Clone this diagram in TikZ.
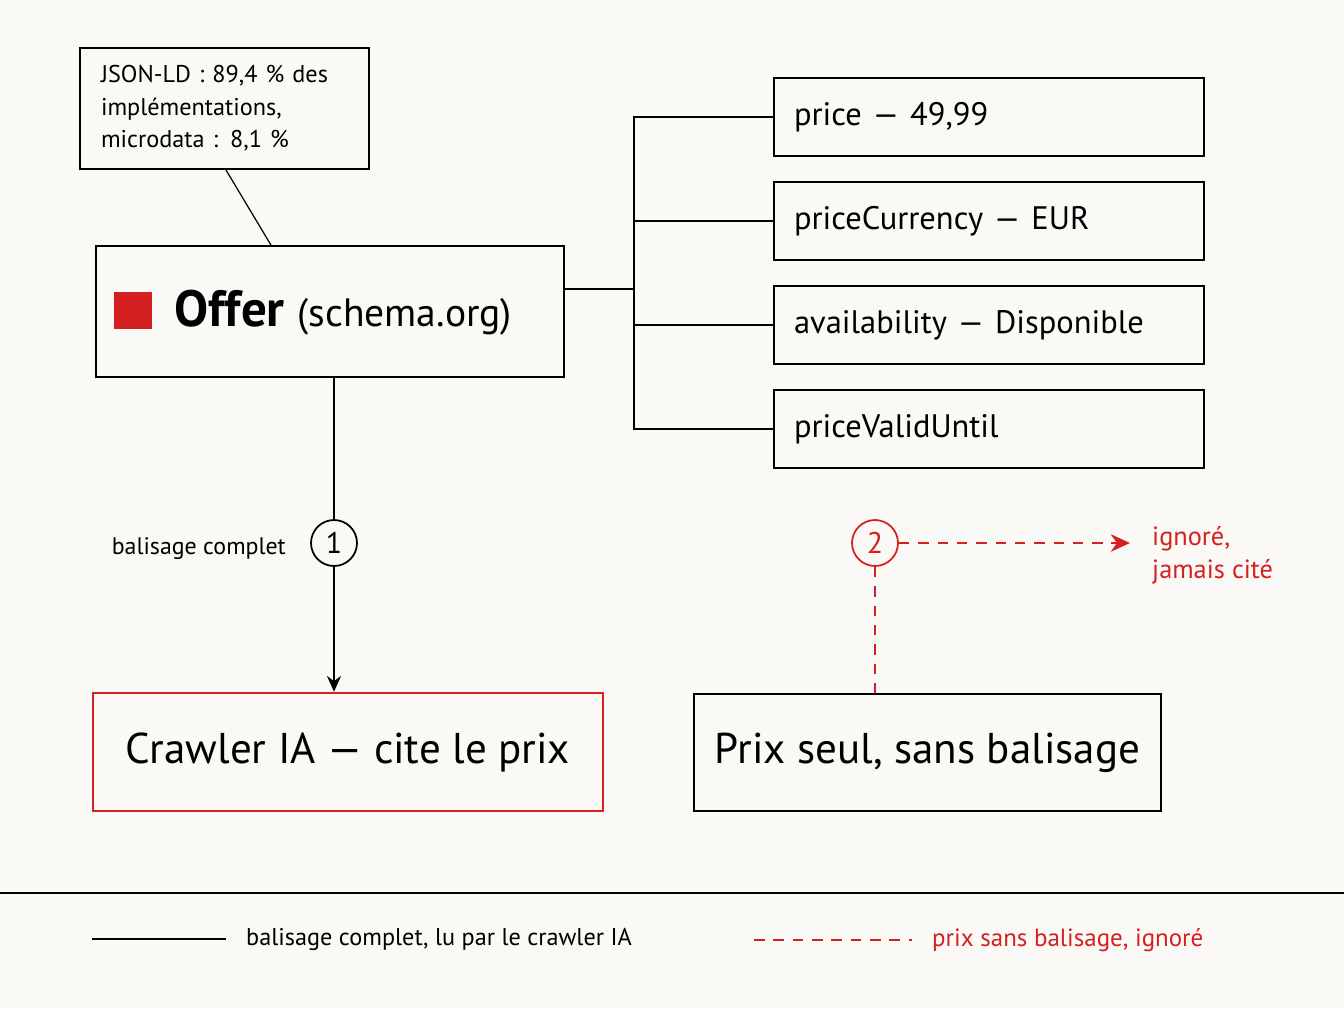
\documentclass[tikz,border=0pt]{standalone}
\usepackage{fontspec}
\setmainfont{PT Sans}
\usetikzlibrary{arrows.meta}
\definecolor{redmark}{HTML}{D42020}
\definecolor{paper}{HTML}{FAF9F5}
\tikzset{
  box/.style={draw, line width=1pt, inner sep=0pt},
  prop/.style={box, minimum width=8.6cm, minimum height=1.56cm, text width=7.8cm, align=left, font=\fontsize{18.5}{20}\selectfont},
  stepmark/.style={circle, draw, line width=1pt, minimum size=0.92cm, inner sep=0pt, font=\fontsize{17}{19}\selectfont},
  link/.style={line width=1pt},
  miss/.style={line width=1pt, redmark, dash pattern=on 6pt off 5pt},
}
\begin{document}
\begin{tikzpicture}[x=0.02cm, y=-0.02cm]
        \fill[paper] (0,0) rectangle (1344,1008);
        \useasboundingbox (0,0) rectangle (1344,1008);
        %%%%%%%%%% Nodi %%%%%%%%%%
        \node[box, minimum width=5.78cm, minimum height=2.42cm, text width=4.94cm, align=left, font=\fontsize{13.8}{18.5}\selectfont] (note) at (224.5,108.5) {JSON-LD : 89,4 \% des\\implémentations,\\microdata : 8,1 \%};
        \node[box, minimum width=9.36cm, minimum height=2.62cm] (offer) at (330,311.5) {};
        \fill[redmark] (114,292) rectangle (152,329);
        \node[anchor=west, inner sep=0pt] (title) at (174,313) {\fontsize{29}{32}\selectfont\bfseries Offer \fontsize{22.5}{26}\selectfont\mdseries(schema.org)};
        \node[prop] (p1) at (989,117) {price — 49,99};
        \node[prop] (p2) at (989,221) {priceCurrency — EUR};
        \node[prop] (p3) at (989,325) {availability — Disponible};
        \node[prop] (p4) at (989,429) {priceValidUntil};
        \coordinate (hub) at (634,289);
        \node[stepmark] (s1) at (334,543) {1};
        \node[stepmark, redmark] (s2) at (875,543) {2};
        \node[anchor=east, font=\fontsize{13.6}{16}\selectfont] (lbl) at (292,549) {balisage complet};
        \node[anchor=west, align=left, text=redmark, font=\fontsize{15}{19}\selectfont] (ign) at (1146,555) {ignoré,\\jamais cité};
        \node[box, draw=redmark, line width=1.4pt, minimum width=10.2cm, minimum height=2.36cm, font=\fontsize{24.5}{28}\selectfont] (crawl) at (348,752) {Crawler IA — cite le prix};
        \node[box, minimum width=9.34cm, minimum height=2.34cm, font=\fontsize{24.5}{28}\selectfont] (prix) at (927.5,752.5) {Prix seul, sans balisage};

        %%%%%%%%% Archi %%%%%%%%%%
        \draw[link, line width=0.7pt] (226,170) -- (offer.north west -| 271,0);
        \draw[link] (offer.east |- hub) -- (hub);
        \foreach \p in {p1,p2,p3,p4}
          \draw[link] (hub) |- (\p.west);
        \draw[link] (offer.south -| s1) -- (s1);
        \draw[link, -{Stealth[length=9pt, width=8pt]}] (s1) -- (crawl.north -| s1);
        \draw[miss, -{Stealth[length=11pt, width=10pt]}] (s2) -- (1130,543);
        \draw[miss] (s2) -- (prix.north -| s2);

        %%%%%%%%% Legenda %%%%%%%%%%
        \draw[line width=0.8pt] (0,893) -- (1344,893);
        \coordinate (la) at (92,939);
        \coordinate (lb) at (226,939);
        \draw[link] (la) -- (lb);
        \node[anchor=west, font=\fontsize{13.8}{16}\selectfont] (lt1) at (240,939) {balisage complet, lu par le crawler IA};
        \coordinate (lc) at (754,940);
        \coordinate (ld) at (912,940);
        \draw[miss] (lc) -- (ld);
        \node[anchor=west, text=redmark, font=\fontsize{14.2}{16}\selectfont] (lt2) at (926,940) {prix sans balisage, ignoré};
\end{tikzpicture}
\end{document}
